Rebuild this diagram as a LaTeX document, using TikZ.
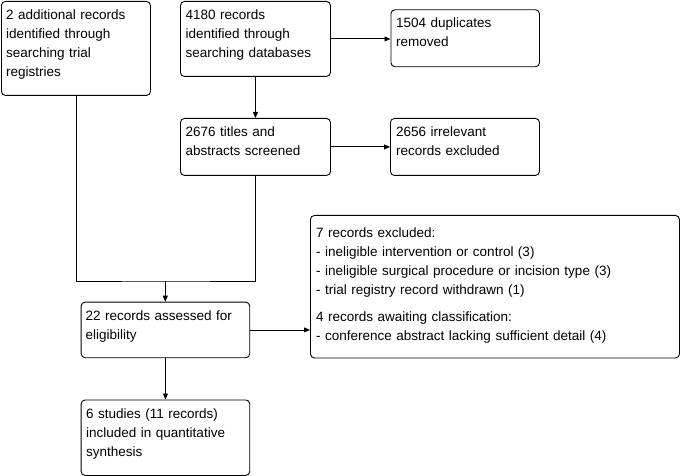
\documentclass[tikz,border=0pt]{standalone}
\usepackage{fontspec}
\setmainfont{Liberation Sans}
\usetikzlibrary{arrows.meta}
\begin{document}
\begin{tikzpicture}[x=1pt,y=-1pt,
  box/.style={draw, line width=0.9pt, rounded corners=4pt, anchor=north west, inner sep=0pt},
  txt/.style={anchor=base west, align=left, text width=360pt, inner sep=0pt, font=\fontsize{13.5}{19}\selectfont},
  conn/.style={line width=0.9pt},
  arr/.style={conn, -{Triangle[length=6pt,width=5pt]}}]
\useasboundingbox (0,0) rectangle (681,476);
% boxes
\node[box, minimum width=149pt, minimum height=94pt] (a) at (1,1) {};
\node[box, minimum width=150pt, minimum height=75pt] (b) at (180,1) {};
\node[box, minimum width=148.5pt, minimum height=57pt] (c) at (390.5,9.3) {};
\node[box, minimum width=150pt, minimum height=57pt] (d) at (180,118) {};
\node[box, minimum width=149pt, minimum height=57pt] (e) at (390,118) {};
\node[box, minimum width=369pt, minimum height=142.5pt] (f) at (310,215) {};
\node[box, minimum width=168.6pt, minimum height=55.6pt] (g) at (80.7,301.7) {};
\node[box, minimum width=168.6pt, minimum height=75.5pt] (h) at (80.7,399.5) {};
% texts
\node[txt] (at) at (6,19.5) {2 additional records\\identified through\\searching trial\\registries};
\node[txt] (bt) at (185.5,19.5) {4180 records\\identified through\\searching databases};
\node[txt] (ct) at (396,27.5) {1504 duplicates\\removed};
\node[txt] (dt) at (185.5,136.5) {2676 titles and\\abstracts screened};
\node[txt] (et) at (396,136.5) {2656 irrelevant\\records excluded};
\node[txt] (ft1) at (316,238) {7 records excluded:\\- ineligible intervention or control (3)\\- ineligible surgical procedure or incision type (3)\\- trial registry record withdrawn (1)};
\node[txt] (ft2) at (316,322) {4 records awaiting classification:\\- conference abstract lacking sufficient detail (4)};
\node[txt] (gt) at (85.5,320) {22 records assessed for\\eligibility};
\node[txt] (ht) at (86,418) {6 studies (11 records)\\included in quantitative\\synthesis};
% connectors
\coordinate (j) at (165.3,281);
\draw[arr] (b.south) -- (d.north);
\draw[arr] (b.east) -- (b.east -| c.west);
\draw[arr] (d.east) -- (d.east -| e.west);
\draw[conn] (a.south) |- (j) -| (d.south);
\draw[arr] (j) -- (j |- g.north);
\draw[arr] (g.east) -- (g.east -| f.west);
\draw[arr] (g.south) -- (h.north);
\end{tikzpicture}
\end{document}
